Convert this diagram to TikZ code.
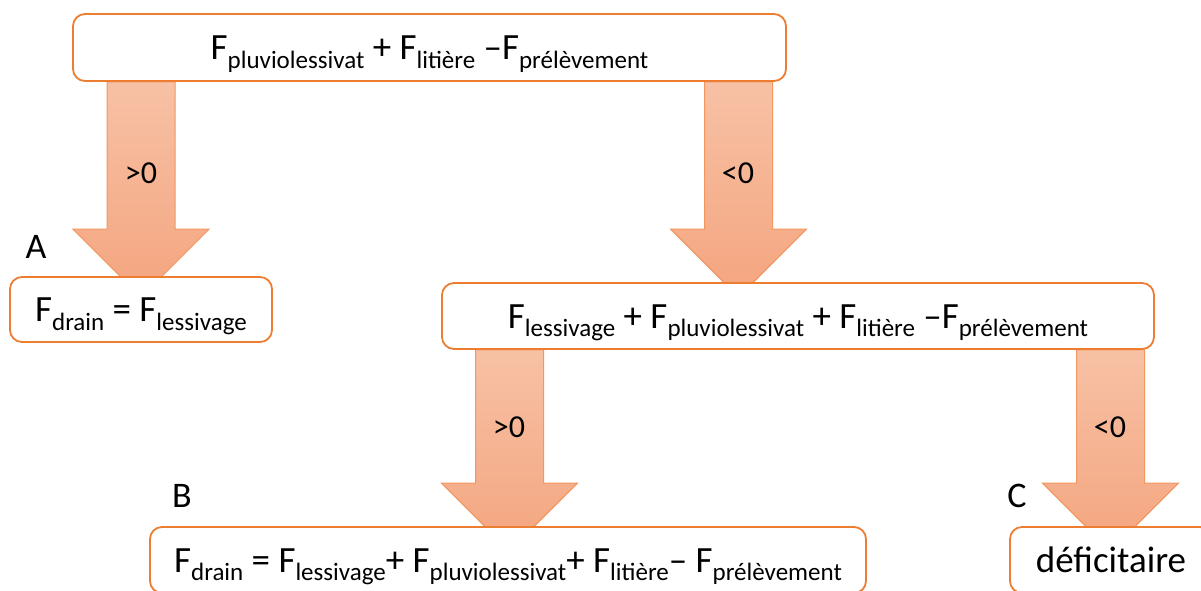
\documentclass[tikz,border=0pt]{standalone}
\usepackage{fontspec}
\setmainfont{Carlito}
\usetikzlibrary{calc,backgrounds}
\definecolor{boxorange}{HTML}{ED7D31}
\definecolor{arrtop}{HTML}{F7C1A5}
\definecolor{arrbot}{HTML}{F4A57F}
\definecolor{arredge}{HTML}{F2975F}
\newcommand\Fsub[1]{F\raisebox{-8.5pt}{\fontsize{25}{25}\selectfont #1}}
\newcommand\blockarrow[4]{%
  \path[arrowbody] let \p1=(#2.south), \p2=(#3.north) in
    (#1-34pt,\y1) -- (#1+34pt,\y1) -- (#1+34pt,\y2+#4) -- (#1+68pt,\y2+#4)
    -- (#1,\y2+#4-68pt) -- (#1-68pt,\y2+#4) -- (#1-34pt,\y2+#4) -- cycle;}
\begin{document}
\begin{tikzpicture}[x=1pt,y=-1pt,
  formbox/.style={draw=boxorange, line width=1.8pt, rounded corners=12pt, fill=white,
    inner sep=0pt, text height=30pt, text depth=6pt, font=\fontsize{37}{40}\selectfont},
  tag/.style={font=\fontsize{36}{40}\selectfont, inner sep=0pt},
  sign/.style={font=\fontsize{32}{36}\selectfont, inner sep=0pt},
  arrowbody/.style={draw=arredge, line width=1pt, top color=arrtop, bottom color=arrbot}]
\useasboundingbox (0,0) rectangle (1201,590);
\clip (0,0) rectangle (1201,590);
\node[formbox, minimum width=713pt, minimum height=67pt] (top) at (429.5,47.5)
  {\Fsub{pluviolessivat} + \Fsub{litière} –\Fsub{prélèvement}};
\node[formbox, minimum width=262pt, minimum height=65pt] (A) at (141,309.5)
  {\Fsub{drain} = \Fsub{lessivage}};
\node[formbox, minimum width=712pt, minimum height=66pt] (mid) at (798,316)
  {\Fsub{lessivage} + \Fsub{pluviolessivat} + \Fsub{litière} –\Fsub{prélèvement}};
\node[formbox, minimum width=716pt, minimum height=66pt] (B) at (508,560)
  {\Fsub{drain} = \Fsub{lessivage}+ \Fsub{pluviolessivat}+ \Fsub{litière}– \Fsub{prélèvement}};
\node[formbox, minimum width=202pt, minimum height=66pt] (C) at (1111,560)
  {déficitaire};
\node[tag] (la) at (36,247) {A};
\node[tag] (lb) at (182,496) {B};
\node[tag] (lc) at (1017,496) {C};
\begin{scope}[on background layer]
  \blockarrow{141pt}{top}{A}{47pt}
  \blockarrow{738.5pt}{top}{mid}{53pt}
  \blockarrow{509.5pt}{mid}{B}{43pt}
  \blockarrow{1110.5pt}{mid}{C}{43pt}
\end{scope}
\node[sign] (s1) at (141,173) {>0};
\node[sign] (s2) at (738,173) {<0};
\node[sign] (s3) at (509,427) {>0};
\node[sign] (s4) at (1110,427) {<0};
\end{tikzpicture}
\end{document}
